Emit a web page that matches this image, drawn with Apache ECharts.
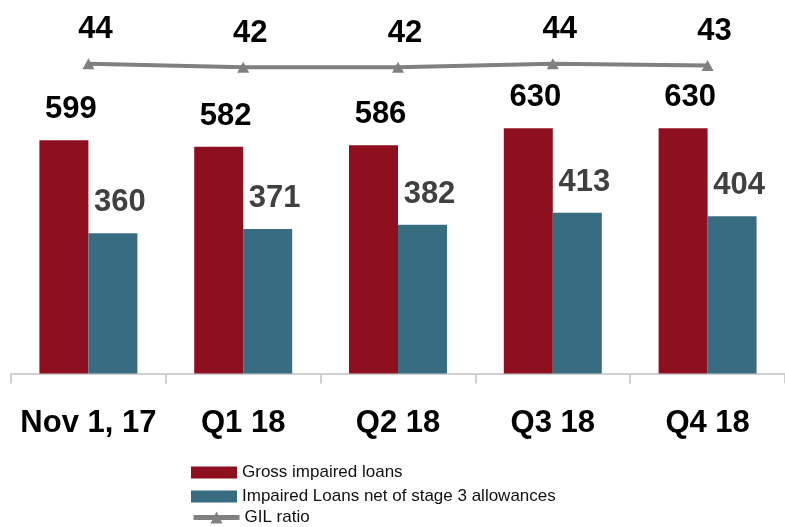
<!DOCTYPE html>
<html>
<head>
<meta charset="utf-8">
<script src="https://cdn.jsdelivr.net/npm/echarts@6/dist/echarts.min.js"></script>
<style>
  html, body { margin: 0; padding: 0; background: #ffffff; }
  #chart { width: 785px; height: 527px; }
</style>
</head>
<body>
<div id="chart"></div>
<script>
// Periods on the category axis
const periods = ['Nov 1, 17', 'Q1 18', 'Q2 18', 'Q3 18', 'Q4 18'];
// Gross impaired loans
const grossImpaired = [599, 582, 586, 630, 630];
// Impaired loans net of stage 3 allowances
const netImpaired = [360, 371, 382, 413, 404];
// GIL ratio
const gilRatio = [44, 42, 42, 44, 43];

const FONT = '"Liberation Sans", Arial, sans-serif';
const RED = '#8e0f1e';
const TEAL = '#386c80';
const GREY = '#808080';

const SERIES_NAMES = ['Gross impaired loans', 'Impaired Loans net of stage 3 allowances', 'GIL ratio'];

// One legend row per series, stacked beneath the axis labels
function legendRow(name, top, icon, extra) {
  const item = { name: name };
  if (icon) item.icon = icon;
  return Object.assign({
    orient: 'vertical',
    left: 191,
    top: top,
    padding: 0,
    itemWidth: 46,
    itemHeight: 12,
    textStyle: { fontFamily: FONT, fontSize: 17, color: '#111111' },
    data: [item]
  }, extra || {});
}

const chart = echarts.init(document.getElementById('chart'));

chart.setOption({
  backgroundColor: '#ffffff',
  animation: false,
  textStyle: { fontFamily: FONT },
  grid: { left: 11, width: 780, top: 23, height: 350.5 },
  legend: [
    legendRow(SERIES_NAMES[0], 464, 'rect'),
    legendRow(SERIES_NAMES[1], 488, 'rect'),
    legendRow(SERIES_NAMES[2], 509, null, {
      itemHeight: 15,
      lineStyle: { width: 5, color: GREY }
    })
  ],
  xAxis: {
    type: 'category',
    data: periods,
    boundaryGap: true,
    axisLine: { show: true, lineStyle: { color: '#d0d0d0', width: 2 } },
    axisTick: { show: true, length: 10, lineStyle: { color: '#d0d0d0', width: 2 } },
    axisLabel: {
      interval: 0,
      margin: 34,
      fontFamily: FONT,
      fontSize: 31,
      fontWeight: 'bold',
      color: '#000000'
    }
  },
  yAxis: [
    { type: 'value', min: 0, max: 900, show: false, splitLine: { show: false } },
    { type: 'value', min: -138, max: 68, show: false, splitLine: { show: false } }
  ],
  series: [
    {
      name: SERIES_NAMES[0],
      type: 'bar',
      yAxisIndex: 0,
      data: grossImpaired,
      barWidth: 49,
      barGap: '0%',
      itemStyle: { color: RED },
      label: {
        show: true,
        position: 'top',
        distance: 15,
        offset: [7, 0],
        fontFamily: FONT,
        fontSize: 31,
        fontWeight: 'bold',
        color: '#000000'
      }
    },
    {
      name: SERIES_NAMES[1],
      type: 'bar',
      yAxisIndex: 0,
      data: netImpaired,
      barWidth: 49,
      barGap: '0%',
      itemStyle: { color: TEAL },
      label: {
        show: true,
        position: 'top',
        distance: 15,
        offset: [7, 0],
        fontFamily: FONT,
        fontSize: 31,
        fontWeight: 'bold',
        color: '#404040'
      }
    },
    {
      name: SERIES_NAMES[2],
      type: 'line',
      yAxisIndex: 1,
      data: gilRatio,
      symbol: 'triangle',
      symbolSize: [12, 11],
      lineStyle: { color: GREY, width: 4 },
      itemStyle: { color: GREY },
      label: {
        show: true,
        position: 'top',
        distance: 13,
        offset: [7, 0],
        fontFamily: FONT,
        fontSize: 31,
        fontWeight: 'bold',
        color: '#000000'
      }
    }
  ]
});
</script>
</body>
</html>
